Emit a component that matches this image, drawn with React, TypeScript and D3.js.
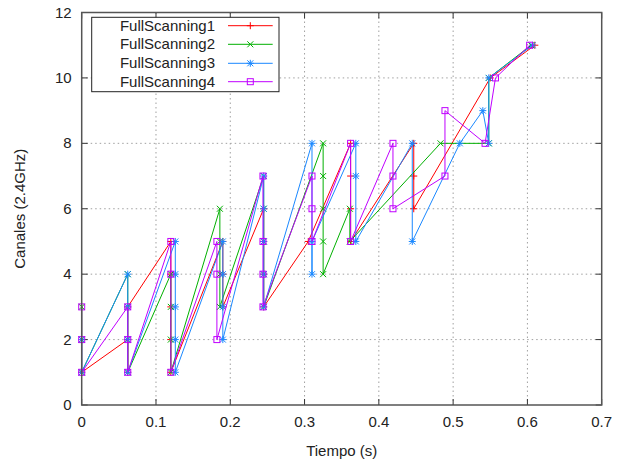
import React from "react";
import * as d3 from "d3";

type P = [number, number];

const seriesNames = ["FullScanning1", "FullScanning2", "FullScanning3", "FullScanning4"];
const seriesColors = ["#ff0000", "#00b000", "#1a88ff", "#c000ff"];
const markerKinds = ["plus", "cross", "star", "square"];

const fullScanning1: P[] = [
  [0, 1], [0.062, 2], [0.062, 1], [0.062, 3],
  [0.12, 5], [0.12, 4], [0.12, 3], [0.12, 2], [0.12, 1],
  [0.19, 5], [0.19, 4], [0.19, 3],
  [0.245, 6], [0.245, 5], [0.245, 4], [0.245, 3],
  [0.305, 5],
  [0.362, 8], [0.362, 7], [0.362, 6], [0.362, 5],
  [0.447, 8], [0.447, 7], [0.447, 6],
  [0.55, 10], [0.61, 11],
];
const fullScanning2: P[] = [
  [0, 3], [0, 2], [0, 1],
  [0.062, 4], [0.062, 3], [0.062, 2], [0.062, 1],
  [0.12, 4], [0.12, 3], [0.12, 2], [0.12, 1],
  [0.186, 6], [0.186, 5], [0.186, 4], [0.186, 3],
  [0.245, 7], [0.245, 6], [0.245, 5], [0.245, 4], [0.245, 3],
  [0.325, 8], [0.325, 7], [0.325, 6], [0.325, 5], [0.325, 4],
  [0.361, 6], [0.361, 5],
  [0.483, 8], [0.548, 8], [0.548, 10], [0.605, 11],
];
const fullScanning3: P[] = [
  [0, 2], [0, 1],
  [0.062, 4], [0.062, 3], [0.062, 2], [0.062, 1],
  [0.126, 5], [0.126, 4], [0.126, 3], [0.126, 2], [0.126, 1],
  [0.19, 5], [0.19, 4], [0.19, 3], [0.19, 2],
  [0.245, 7], [0.245, 6], [0.245, 5], [0.245, 4], [0.245, 3],
  [0.31, 8], [0.31, 4], [0.31, 5],
  [0.369, 8], [0.369, 7], [0.369, 5],
  [0.445, 8], [0.445, 5],
  [0.509, 8], [0.54, 9], [0.548, 8], [0.548, 10], [0.607, 11],
];
const fullScanning4: P[] = [
  [0, 3], [0, 2], [0, 1],
  [0.062, 3], [0.062, 2], [0.062, 1],
  [0.12, 5], [0.12, 4], [0.12, 1],
  [0.182, 5], [0.182, 4], [0.182, 2],
  [0.244, 7], [0.244, 5], [0.244, 4], [0.244, 3],
  [0.31, 7], [0.31, 6], [0.31, 5],
  [0.362, 8], [0.362, 5],
  [0.419, 8], [0.419, 7], [0.419, 6],
  [0.489, 7], [0.489, 9],
  [0.543, 8], [0.557, 10], [0.603, 11],
];
const allSeries = [fullScanning1, fullScanning2, fullScanning3, fullScanning4];

const xTicks = [0, 0.1, 0.2, 0.3, 0.4, 0.5, 0.6, 0.7];
const xTickLabels = ["0", "0.1", "0.2", "0.3", "0.4", "0.5", "0.6", "0.7"];
const yTicks = [0, 2, 4, 6, 8, 10, 12];
const xTitle = "Tiempo (s)";
const yTitle = "Canales (2.4GHz)";

const W = 623, H = 464;
const L = 81.7, R = 601.7, T = 12.5, B = 405;
const FONT = "'Liberation Sans', Arial, sans-serif";
const FS = 15;

function Marker({ kind, x, y, color }: { kind: string; x: number; y: number; color: string }) {
  const s = 3.5;
  if (kind === "plus")
    return <path d={`M${x - s},${y}H${x + s}M${x},${y - s}V${y + s}`} stroke={color} strokeWidth={1} fill="none" />;
  if (kind === "cross")
    return <path d={`M${x - 3},${y - 3}L${x + 3},${y + 3}M${x - 3},${y + 3}L${x + 3},${y - 3}`} stroke={color} strokeWidth={1} fill="none" />;
  if (kind === "star")
    return (
      <path
        d={`M${x - s},${y}H${x + s}M${x},${y - s}V${y + s}M${x - 3},${y - 3}L${x + 3},${y + 3}M${x - 3},${y + 3}L${x + 3},${y - 3}`}
        stroke={color}
        strokeWidth={1}
        fill="none"
      />
    );
  return <rect x={x - 3} y={y - 3} width={6} height={6} stroke={color} strokeWidth={1} fill="none" />;
}

export default function App() {
  const x = d3.scaleLinear().domain([0, 0.7]).range([L, R]);
  const y = d3.scaleLinear().domain([0, 12]).range([B, T]);
  const line = d3
    .line<P>()
    .x((d) => x(d[0]))
    .y((d) => y(d[1]));

  const legX0 = 91.7, legX1 = 279, legY0 = 17.3, legY1 = 91.7;
  const rowY = [25.7, 44.3, 63.3, 81.7];

  return (
    <svg width={W} height={H} style={{ position: "absolute", left: 0, top: 0, background: "#fff" }} fontFamily={FONT}>
      <rect x={0} y={0} width={W} height={H} fill="#fff" />
      {xTicks.slice(1, -1).map((t) => (
        <line key={"gx" + t} x1={x(t)} x2={x(t)} y1={T} y2={B} stroke="#a0a0a0" strokeWidth={1} strokeDasharray="1.5,3" />
      ))}
      {yTicks.slice(1, -1).map((t) => (
        <line key={"gy" + t} x1={L} x2={R} y1={y(t)} y2={y(t)} stroke="#a0a0a0" strokeWidth={1} strokeDasharray="1.5,3" />
      ))}
      {xTicks.map((t) => (
        <g key={"tx" + t}>
          <line x1={x(t)} x2={x(t)} y1={B} y2={B - 6} stroke="#333" />
          <line x1={x(t)} x2={x(t)} y1={T} y2={T + 6} stroke="#333" />
        </g>
      ))}
      {yTicks.map((t) => (
        <g key={"ty" + t}>
          <line x1={L} x2={L + 6} y1={y(t)} y2={y(t)} stroke="#333" />
          <line x1={R} x2={R - 6} y1={y(t)} y2={y(t)} stroke="#333" />
        </g>
      ))}
      {allSeries.map((data, i) => (
        <g key={"s" + i}>
          <path d={line(data) || ""} fill="none" stroke={seriesColors[i]} strokeWidth={1} />
          {data.map((d, j) => (
            <Marker key={j} kind={markerKinds[i]} x={x(d[0])} y={y(d[1])} color={seriesColors[i]} />
          ))}
        </g>
      ))}
      <rect x={L} y={T} width={R - L} height={B - T} fill="none" stroke="#555" strokeWidth={1.5} />
      {xTicks.map((t, i) => (
        <text key={"lx" + t} x={x(t)} y={B + 22} textAnchor="middle" fontSize={FS} fill="#222">
          {xTickLabels[i]}
        </text>
      ))}
      {yTicks.map((t) => (
        <text key={"ly" + t} x={L - 10} y={y(t) + 5} textAnchor="end" fontSize={FS} fill="#222">
          {t}
        </text>
      ))}
      <text x={(L + R) / 2} y={456} textAnchor="middle" fontSize={FS} fill="#222">
        {xTitle}
      </text>
      <text transform={`translate(25,${(T + B) / 2}) rotate(-90)`} textAnchor="middle" fontSize={FS} fill="#222">
        {yTitle}
      </text>
      <rect x={legX0} y={legY0} width={legX1 - legX0} height={legY1 - legY0} fill="#fff" stroke="#222" strokeWidth={1} />
      {seriesNames.map((n, i) => (
        <g key={"lg" + i}>
          <text x={215} y={rowY[i] + 5} textAnchor="end" fontSize={FS} fill="#222">
            {n}
          </text>
          <line x1={228} x2={272.7} y1={rowY[i]} y2={rowY[i]} stroke={seriesColors[i]} strokeWidth={1} />
          <Marker kind={markerKinds[i]} x={250.3} y={rowY[i]} color={seriesColors[i]} />
        </g>
      ))}
    </svg>
  );
}
